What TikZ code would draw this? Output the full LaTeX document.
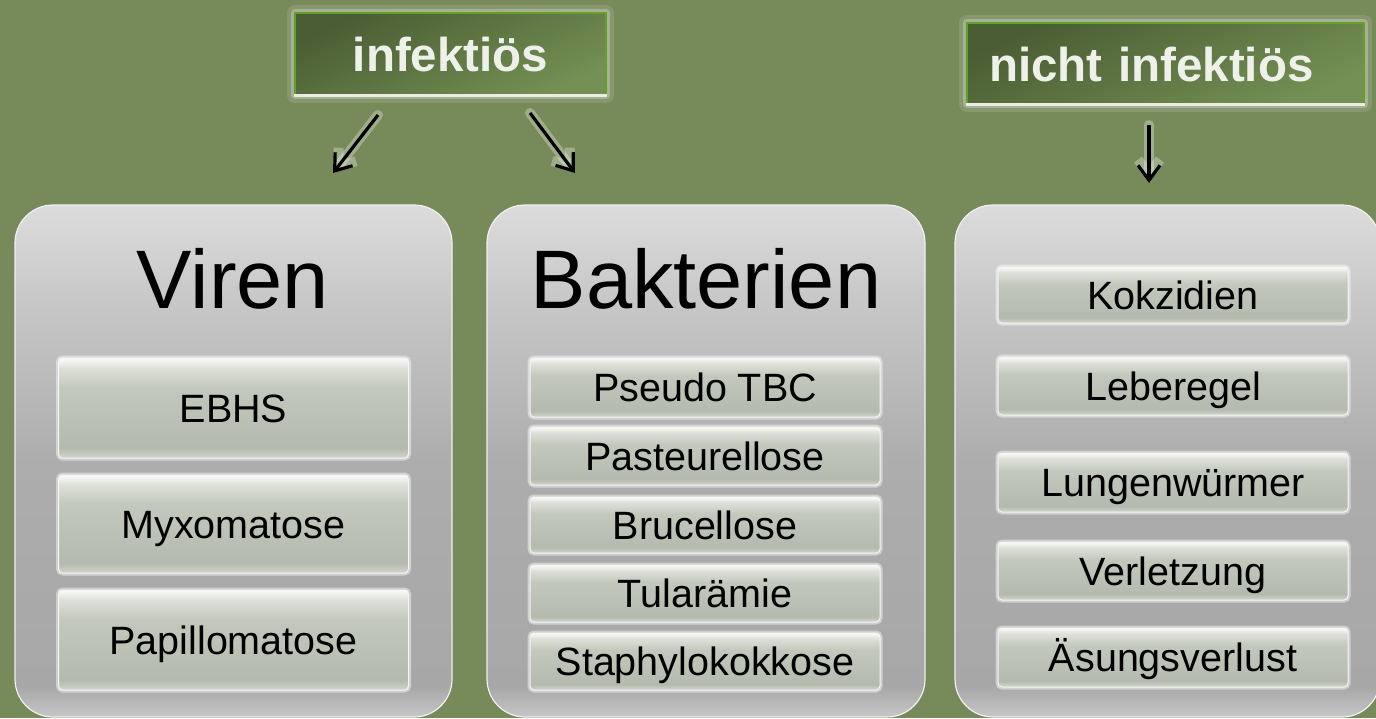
\documentclass[tikz,border=0pt]{standalone}
\usepackage{fontspec}
\setmainfont{Liberation Sans}
\usetikzlibrary{arrows.meta}
\definecolor{bgc}{HTML}{778A5A}
\definecolor{hdark}{HTML}{4A5D33}
\definecolor{hlight}{HTML}{749054}
\definecolor{hgreen}{HTML}{62A02A}
\definecolor{hline}{HTML}{E9EEE3}
\definecolor{htext}{HTML}{EEF1EA}
\definecolor{ptop}{HTML}{DCDCDC}
\definecolor{phigh}{HTML}{C8C8C8}
\definecolor{pmid}{HTML}{ADADAD}
\definecolor{plow}{HTML}{A7A7A7}
\definecolor{pbot}{HTML}{C6C6C6}
\definecolor{itop}{HTML}{FAFBF7}
\definecolor{ihigh}{HTML}{DDE0D8}
\definecolor{imid}{HTML}{C3C8BC}
\definecolor{ilow}{HTML}{B4BAAD}
\definecolor{ibot}{HTML}{D2D6CD}
\pgfdeclareverticalshading{panelshade}{100bp}{color(0bp)=(pbot); color(25bp)=(pbot);
  color(28bp)=(plow); color(50bp)=(pmid); color(66bp)=(phigh); color(75bp)=(ptop); color(100bp)=(ptop)}
\pgfdeclareverticalshading{itemshade}{100bp}{color(0bp)=(ibot); color(25bp)=(ibot);
  color(30bp)=(ilow); color(60bp)=(imid); color(70bp)=(ihigh); color(75bp)=(itop); color(100bp)=(itop)}

\begin{document}
\begin{tikzpicture}[x=1pt,y=-1pt,
	hdr/.style={minimum height=#1, inner xsep=22pt, inner ysep=0pt,
		top color=hdark, bottom color=hlight, shading angle=25,
		draw=hgreen, line width=1.5pt,
		preaction={draw=white, draw opacity=.12, line width=16pt, line join=round},
		preaction={draw=white, draw opacity=.25, line width=8pt, line join=round},
		font=\bfseries\fontsize{47.5}{50}\selectfont, text=htext,
		text height=35pt, text depth=0pt},
	panel/.style={minimum width=#1, minimum height=512pt, inner sep=0pt,
		rounded corners=38pt, shade, shading=panelshade,
		draw=white!88!gray, line width=1.2pt},
	title/.style={font=\fontsize{83}{90}\selectfont, anchor=base},
	item/.style={minimum width=350pt, minimum height=#1, inner sep=0pt,
		rounded corners=4pt, shade, shading=itemshade,
		draw=white!92!gray, line width=1pt,
		preaction={draw=white, draw opacity=.45, line width=5pt},
		font=\fontsize{39.5}{42}\selectfont, text height=28pt, text depth=0pt},
	arr/.style={line width=3.2pt, -{Straight Barb[length=15pt,width=22pt]},
		preaction={draw=white, draw opacity=.3, line width=10pt, line cap=round}}]

	\useasboundingbox (0,0) rectangle (1376,718);
	\clip (0,0) rectangle (1376,718);
	\fill[bgc] (0,0) rectangle (1376,718);

	% headers
	\node[hdr=82pt, text width=267pt, align=center] (inf) at (450.5,54) {infektiös};
	\draw[hline, line width=3pt] (inf.south west) -- (inf.south east);
	\node[hdr=81pt, text width=353pt, align=left] (ninf) at (1165.5,63.5) {nicht infektiös};
	\draw[hline, line width=3pt] (ninf.south west) -- (ninf.south east);

	% arrows
	\coordinate (infL) at (378,115);
	\coordinate (infR) at (530,113);
	\coordinate (ninfD) at (1149,125);
	\coordinate (virTop) at (333,173);
	\coordinate (bakTop) at (575,173);
	\coordinate (parTop) at (1149,183);
	\draw[arr] (infL) -- (virTop);
	\draw[arr] (infR) -- (bakTop);
	\draw[arr] (ninfD) -- (parTop);

	% panels
	\node[panel=437pt] (viren) at (233.5,461) {};
	\node[panel=438pt] (bakt) at (706,461) {};
	\node[panel=425pt] (para) at (1167.5,461) {};
	\node[title] (virenT) at (233,308) {Viren};
	\node[title] (baktT) at (706,308) {Bakterien};

	% items
	\foreach \y/\h/\t [count=\i] in {408/100/EBHS, 524/98/Myxomatose, 640/100/Papillomatose}
		\node[item=\h pt] (v\i) at (233.5,\y) {\t};
	\foreach \y/\h/\t [count=\i] in {387.5/59/Pseudo TBC, 456/58/Pasteurellose, 525/56/Brucellose,
		593.5/57/Tularämie, 661.5/57/Staphylokokkose}
		\node[item=\h pt] (b\i) at (705,\y) {\t};
	\foreach \y/\h/\t [count=\i] in {295/56/Kokzidien, 386/58/Leberegel, 482.5/59/Lungenwürmer,
		571/58/Verletzung, 657.5/59/Äsungsverlust}
		\node[item=\h pt] (p\i) at (1173,\y) {\t};
\end{tikzpicture}
\end{document}
